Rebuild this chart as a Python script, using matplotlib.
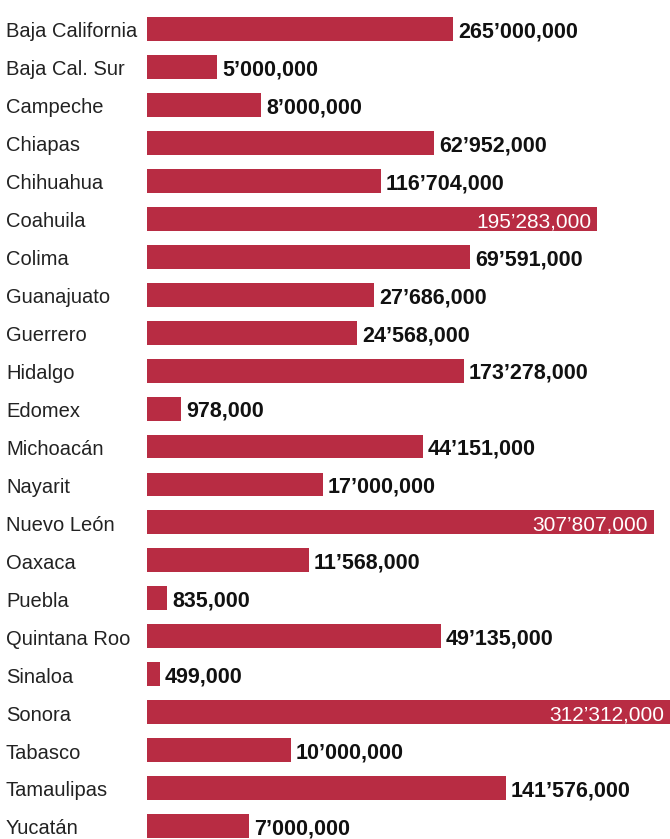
import matplotlib
matplotlib.use('Agg')
import matplotlib.pyplot as plt
import matplotlib.transforms as mtransforms

# Row data, top to bottom
states = ['Baja California', 'Baja Cal. Sur', 'Campeche', 'Chiapas', 'Chihuahua',
          'Coahuila', 'Colima', 'Guanajuato', 'Guerrero', 'Hidalgo', 'Edomex',
          'Michoacán', 'Nayarit', 'Nuevo León', 'Oaxaca', 'Puebla', 'Quintana Roo',
          'Sinaloa', 'Sonora', 'Tabasco', 'Tamaulipas', 'Yucatán']
value_labels = ['265’000,000', '5’000,000', '8’000,000', '62’952,000', '116’704,000',
                '195’283,000', '69’591,000', '27’686,000', '24’568,000', '173’278,000',
                '978,000', '44’151,000', '17’000,000', '307’807,000', '11’568,000',
                '835,000', '49’135,000', '499,000', '312’312,000', '10’000,000',
                '141’576,000', '7’000,000']
# bar lengths as drawn in the source graphic (not proportional to the labels)
bar_len = [306, 70, 114, 287, 234, 450, 323, 227, 210, 317, 34, 276, 176, 507,
           162, 20, 294, 13, 530, 144, 359, 102]
inside = ['Coahuila', 'Nuevo León', 'Sonora']

bar_color = '#b82c43'
plt.rcParams['font.family'] = ['Liberation Sans', 'DejaVu Sans']

fig = plt.figure(figsize=(6.7, 8.39), dpi=100)
ax = fig.add_axes([147 / 670, 0, 523 / 670, 1])

y = list(range(len(states)))
ax.barh(y, bar_len, height=0.63, color=bar_color)
ax.set_xlim(0, 523)
ax.set_ylim(21.34, -0.764)
ax.axis('off')

base = 0.22  # baseline offset below row centre (data units)
trans = mtransforms.blended_transform_factory(fig.transFigure, ax.transData)
for i, name in enumerate(states):
    ax.text(6 / 670, i + base, name, transform=trans, ha='left', va='baseline',
            fontsize=14.5, color='#222222')
    if name in inside:
        ax.text(min(bar_len[i], 523) - 6, i + base, value_labels[i], ha='right',
                va='baseline', fontsize=15, color='white', clip_on=False)
    else:
        ax.text(bar_len[i] + 5, i + base, value_labels[i], ha='left', va='baseline',
                fontsize=15.5, fontweight='bold', color='#111111')

fig.savefig('out.png', dpi=100)
